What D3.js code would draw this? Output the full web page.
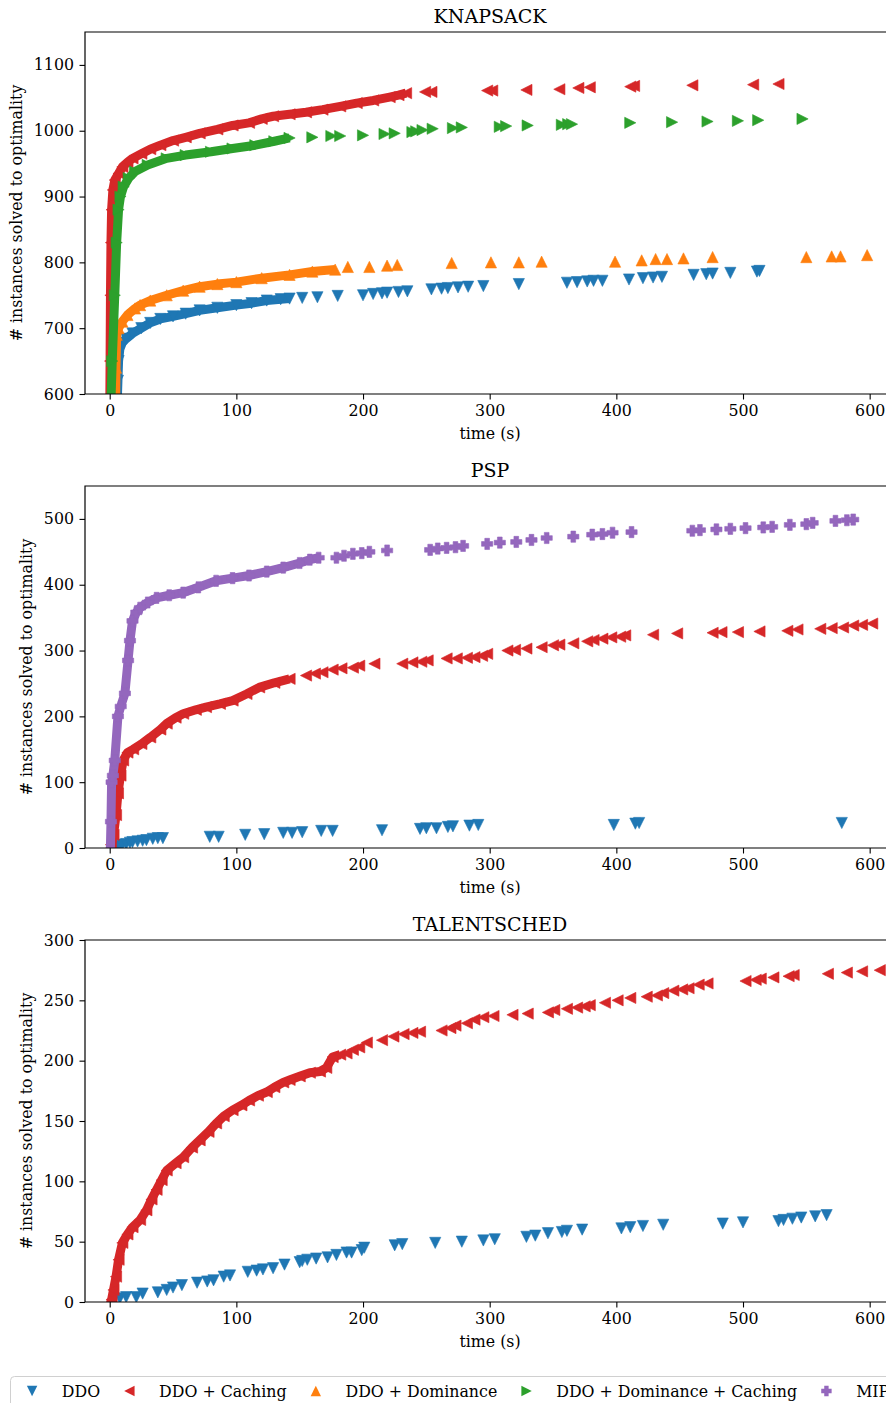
<!DOCTYPE html>
<html>
<head>
<meta charset="utf-8">
<script src="https://cdn.jsdelivr.net/npm/d3@7"></script>
<style>
body { margin: 0; background: #fff; }
</style>
</head>
<body>
<script>
// ---- data: [time (s), # instances solved] ----
const seriesNames = ["DDO", "DDO + Caching", "DDO + Dominance", "DDO + Dominance + Caching", "MIP"];
const seriesColors = ["#1f77b4", "#d62728", "#ff7f0e", "#2ca02c", "#9467bd"];
const seriesMarkers = ["v", "<", "^", ">", "P"];

const xTicks = [0, 100, 200, 300, 400, 500, 600];

// KNAPSACK
const kpDDO = [[6,590],[6.5,620],[7,650],[8,668],[10,678],[13,684],[18,692],[25,700],[32,708],[40,714],[50,718],[60,722],[71,727],[85,731],[100,735],[112,738],[124,742],[135,744],[142,745],
  [152,746],[164,747],[180,749],[200,750],[208,752],[215,753],[219,754],[228,755],[235,756],[254,759],[262,760],[267,761],[275,762],[283,763],[295,764],[323,767],[361,769],[369,770],[377,771],[382,772],[389,772],[410,774],[421,776],[429,777],[436,778],[461,781],[471,782],[476,783],[490,784],[511,786],[513,787]];
const kpCaching = [[0,560],[0.3,650],[0.6,750],[1,830],[1.5,880],[2.5,910],[4,925],[7,935],[10,945],[14,952],[18,958],[25,965],[32,972],[40,978],[50,985],[60,990],[71,996],[85,1002],[97,1008],[110,1012],[120,1018],[129,1022],[142,1025],[155,1028],[168,1032],[182,1037],[195,1042],[208,1046],[221,1051],[228,1054],[234,1057],
  [249,1059],[254,1059],[298,1061],[302,1061],[329,1062],[355,1063],[370,1065],[379,1066],[411,1067],[414,1068],[460,1069],[508,1070],[528,1071]];
const kpDominance = [[4.5,560],[5,640],[5.5,690],[7,700],[10,710],[14,720],[20,730],[24,735],[32,742],[45,750],[58,757],[71,763],[85,767],[100,770],[120,776],[142,781],[160,786],[178,789],
  [188,793],[205,793],[219,795],[227,796],[270,799],[301,800],[323,800],[341,801],[399,801],[420,803],[431,805],[440,805],[453,806],[476,808],[550,808],[570,809],[577,809],[598,811]];
const kpDomCaching = [[0.5,560],[2,650],[4,750],[5.5,830],[7,880],[8.5,900],[11,915],[15,928],[20,938],[30,948],[45,958],[60,963],[80,968],[97,973],[115,978],[130,984],[142,989],
  [160,990],[175,992],[182,992],[200,993],[217,995],[225,996],[239,998],[242,999],[247,1001],[255,1003],[271,1004],[278,1005],[308,1006],[313,1007],[330,1008],[357,1009],[362,1010],[365,1010],[411,1012],[444,1013],[472,1014],[496,1015],[512,1016],[547,1018]];

// PSP
const pspDDO = [[5,1],[8,3],[10,5],[13,6],[16,8],[18,9],[22,10],[26,11],[29,12],[34,14],[38,15],[42,15],[79,17],[86,17],[107,20],[122,21],[137,23],[144,23],[152,24],[167,26],[176,26],[215,27],[245,29],[250,30],[258,30],[267,32],[271,33],[284,34],[291,35],[398,35],[415,37],[418,38],[578,38]];
const pspCaching = [[0,-5],[1,5],[3,20],[5,50],[6.5,83],[8.5,110],[10.6,133],[14,145],[18.5,150],[25,158],[32,168],[40,180],[45,189],[52,198],[58,204],[68,210],[76,214],[87,219],[97,224],[108,234],[118,244],[130,251],[142,257],[155,262],[162,265],[168,267],[176,271],[183,273],
  [192,274],[197,277],[209,280],[231,280],[239,282],[246,283],[251,285],[266,288],[274,288],[282,289],[288,290],[294,292],[298,295],[314,300],[320,301],[329,303],[341,305],[350,308],[355,309],[366,311],[377,314],[382,316],[389,318],[396,320],[403,321],[407,323],[429,324],[448,326],[476,327],[483,328],[496,328],[513,329],[535,330],[543,332],[561,333],[570,334],[579,335],[587,338],[594,339],[602,341]];
const pspMIP = [[0.5,-5],[1,40],[1.5,100],[2.5,110],[4,133],[6.5,200],[8.7,215],[12,235],[14.5,285],[16,315],[18,345],[21,358],[24,365],[30,373],[37,380],[47,384],[58,388],[70,396],[84,406],[97,410],[110,414],[124,420],[137,426],[150,433],[158,438],[165,441],
  [179,441],[185,444],[192,447],[199,448],[205,450],[219,452],[253,453],[259,455],[266,456],[273,457],[279,459],[298,462],[308,464],[321,465],[333,468],[345,471],[366,473],[381,476],[389,477],[397,479],[412,480],[460,482],[466,483],[479,484],[490,485],[502,486],[516,487],[523,488],[537,491],[550,492],[555,494],[573,497],[582,498],[587,499]];

// TALENTSCHED
const tsDDO = [[8,3],[13,4],[21,4],[26,7],[38,8],[45,10],[50,12],[57,14],[69,16],[77,17],[82,18],[90,21],[95,22],[109,25],[116,26],[121,27],[129,28],[138,31],[150,33],[152,34],[156,35],[163,36],[172,37],[179,39],[187,41],[191,41],[199,43],[201,45],[225,47],[231,48],[257,49],[278,50],[295,51],[304,52],[329,54],[336,55],[346,57],[357,58],[361,59],[373,60],[404,61],[411,62],[421,63],[437,64],[484,65],[500,66],[528,67],[532,68],[539,69],[546,70],[557,71],[566,72]];
const tsCaching = [[0,-3],[1.5,2],[3,10],[5,21],[7,35],[10,49],[14,56],[18,62],[24,68],[29,76],[33,85],[37,93],[41,101],[45,109],[52,115],[58,120],[65,128],[71,134],[78,141],[84,148],[90,154],[97,159],[104,163],[110,167],[117,171],[124,174],[130,178],[137,182],[142,184],[150,187],[158,190],[166,191],[171,194],[176,203],[182,205],
  [187,206],[192,209],[197,211],[203,215],[215,217],[224,220],[232,222],[239,223],[245,224],[262,225],[269,227],[273,229],[282,231],[288,234],[295,236],[303,237],[318,238],[330,239],[346,240],[351,242],[361,243],[369,244],[375,245],[379,246],[391,248],[401,250],[411,252],[424,253],[432,254],[437,256],[445,258],[452,259],[457,260],[465,263],[472,264],[502,266],[510,267],[514,268],[524,269],[536,270],[540,271],[567,272],[582,273],[594,274],[608,275]];

// where each run of markers is so dense it merges into a band (time, s)
const kpBandEnd = [142, 234, 178, 142];
const pspBandEnd = [0, 142, 165];
const tsBandEnd = [0, 182];

// ---- layout ----
const W = 886, H = 1403;
const FS = 15.8;
const FONT = "'DejaVu Serif', serif";
const svg = d3.select("body").append("svg")
  .attr("width", W).attr("height", H)
  .style("font-family", FONT);

const x = d3.scaleLinear().domain([-19.5, 620]).range([85, 895]);

const panels = [
  { title: "KNAPSACK", top: 32, yDomain: [600, 1150], yTicks: d3.range(600, 1101, 100),
    series: [[0, kpDDO], [1, kpCaching], [2, kpDominance], [3, kpDomCaching]], band: kpBandEnd },
  { title: "PSP", top: 486, yDomain: [0, 550], yTicks: d3.range(0, 501, 100),
    series: [[0, pspDDO], [1, pspCaching], [4, pspMIP]], band: pspBandEnd },
  { title: "TALENTSCHED", top: 940, yDomain: [0, 300], yTicks: d3.range(0, 301, 50),
    series: [[0, tsDDO], [1, tsCaching]], band: tsBandEnd }
];
const PH = 362;

function markerPath(type, h) {
  if (type === "v") return `M${-h},${-h}L${h},${-h}L0,${h}Z`;
  if (type === "^") return `M${-h},${h}L${h},${h}L0,${-h}Z`;
  if (type === "<") return `M${h},${-h}L${h},${h}L${-h},0Z`;
  if (type === ">") return `M${-h},${-h}L${-h},${h}L${h},0Z`;
  // filled plus
  const a = h * 0.42;
  return `M${-a},${-h}H${a}V${-a}H${h}V${a}H${a}V${h}H${-a}V${a}H${-h}V${-a}H${-a}Z`;
}

panels.forEach(function(p, pi) {
  const y = d3.scaleLinear().domain(p.yDomain).range([p.top + PH, p.top]);
  const g = svg.append("g");

  const clipId = "clip" + pi;
  svg.append("clipPath").attr("id", clipId)
    .append("rect").attr("x", 85).attr("y", p.top).attr("width", 810).attr("height", PH);

  const plot = g.append("g").attr("clip-path", "url(#" + clipId + ")");

  p.series.forEach(function(s, si) {
    const idx = s[0], pts = s[1];
    const color = seriesColors[idx];
    // dense part drawn as a thick band
    const dense = pts.filter(d => d[0] <= p.band[si]);
    if (dense.length > 1) {
      plot.append("path")
        .datum(dense)
        .attr("d", d3.line().x(d => x(d[0])).y(d => y(d[1])))
        .attr("fill", "none")
        .attr("stroke", color)
        .attr("stroke-width", 9)
        .attr("stroke-linejoin", "round");
    }
    plot.selectAll(null)
      .data(pts)
      .enter().append("path")
      .attr("transform", d => `translate(${x(d[0])},${y(d[1])})`)
      .attr("d", markerPath(seriesMarkers[idx], 5.6))
      .attr("fill", color)
      .attr("stroke", color)
      .attr("stroke-width", 0.6);
  });

  // frame
  g.append("path")
    .attr("d", `M895,${p.top}H85V${p.top + PH}H895`)
    .attr("fill", "none").attr("stroke", "#000").attr("stroke-width", 1.2);

  const xAxis = g.append("g")
    .attr("transform", `translate(0,${p.top + PH})`)
    .call(d3.axisBottom(x).tickValues(xTicks).tickFormat(d3.format("d")).tickSize(5.5).tickPadding(5.5));
  const yAxis = g.append("g")
    .attr("transform", "translate(85,0)")
    .call(d3.axisLeft(y).tickValues(p.yTicks).tickFormat(d3.format("d")).tickSize(5.5).tickPadding(5.5));
  [xAxis, yAxis].forEach(function(ax) {
    ax.attr("font-family", FONT).attr("font-size", FS);
    ax.select(".domain").remove();
    ax.selectAll(".tick line").attr("stroke", "#000").attr("stroke-width", 1.1);
    ax.selectAll(".tick text").attr("fill", "#000").style("font-family", FONT);
  });

  const yb = yAxis.node().getBBox();
  g.append("text")
    .attr("transform", `translate(${85 + yb.x - 6.3 - 5.5},${p.top + PH / 2}) rotate(-90)`)
    .attr("text-anchor", "middle")
    .attr("font-size", FS)
    .style("font-family", FONT)
    .text("# instances solved to optimality");

  g.append("text")
    .attr("x", 490).attr("y", p.top + PH + 45)
    .attr("text-anchor", "middle")
    .attr("font-size", FS)
    .style("font-family", FONT)
    .text("time (s)");

  g.append("text")
    .attr("x", 490).attr("y", p.top - 9.5)
    .attr("text-anchor", "middle")
    .attr("font-size", 19)
    .style("font-family", FONT)
    .text(p.title);
});

// ---- legend ----
const leg = svg.append("g");
leg.append("rect")
  .attr("x", 10.5).attr("y", 1376.5).attr("width", 1000).attr("height", 50)
  .attr("rx", 4).attr("fill", "#fff").attr("stroke", "#d0d0d0").attr("stroke-width", 1);
let cx = 16.3;
seriesNames.forEach(function(name, i) {
  leg.append("path")
    .attr("transform", `translate(${cx + 15.8},1391)`)
    .attr("d", markerPath(seriesMarkers[i], 5.2))
    .attr("fill", seriesColors[i]);
  const t = leg.append("text")
    .attr("x", cx + 45.5).attr("y", 1396.5)
    .attr("font-size", FS)
    .style("font-family", FONT)
    .text(name);
  cx = cx + 45.5 + t.node().getComputedTextLength() + 13.5;
});
</script>
</body>
</html>
